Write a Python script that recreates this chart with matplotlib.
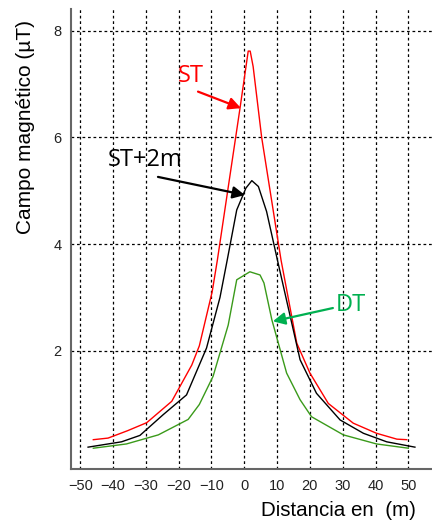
import matplotlib
matplotlib.use("Agg")
import matplotlib.pyplot as plt

# distance (m) and magnetic field (uT)
x_st = [-46, -41.5, -35.5, -29.7, -22.1, -16, -13.7, -9.8, -8.2, -1.3, 1.2, 1.8, 2.7, 5.3, 11.2, 16, 20, 25.6, 33.2, 40.3, 46.5, 49.5]
y_st = [0.33, 0.36, 0.50, 0.65, 1.05, 1.73, 2.09, 3.1, 3.7, 6.55, 7.62, 7.62, 7.33, 6.0, 3.7, 2.14, 1.58, 1.01, 0.64, 0.45, 0.34, 0.33]

x_st2 = [-47.6, -37.4, -31.8, -24.7, -17.6, -11.5, -7.4, -5.2, -2.3, 0.5, 2.3, 4.3, 6.8, 10.1, 17, 22, 29.2, 36.3, 43.4, 52]
y_st2 = [0.19, 0.29, 0.41, 0.80, 1.17, 2.05, 3.0, 3.7, 4.64, 5.05, 5.19, 5.08, 4.61, 3.7, 1.83, 1.20, 0.70, 0.45, 0.29, 0.19]

x_dt = [-46, -35.9, -26.2, -17.1, -13.7, -9.5, -4.9, -2.3, 1.7, 4.8, 6.0, 8.4, 12.9, 17, 20.5, 30.2, 40.3, 50]
y_dt = [0.17, 0.25, 0.42, 0.71, 0.99, 1.52, 2.48, 3.33, 3.48, 3.42, 3.27, 2.58, 1.58, 1.08, 0.76, 0.42, 0.25, 0.17]

x_ticks = [-50, -40, -30, -20, -10, 0, 10, 20, 30, 40, 50]
y_ticks = [2, 4, 6, 8]

RED = "#ff0000"
GREEN_LINE = "#3a9a1a"
GREEN_TXT = "#00b050"

plt.rcParams["font.family"] = ["Liberation Sans", "DejaVu Sans"]

fig = plt.figure(figsize=(4.32, 5.22), dpi=100)
ax = fig.add_axes([71 / 432, 1 - 469 / 522, (432 - 71) / 432, (469 - 9) / 522])

ax.plot(x_st, y_st, color=RED, lw=1.0)
ax.plot(x_st2, y_st2, color="black", lw=1.0)
ax.plot(x_dt, y_dt, color=GREEN_LINE, lw=1.0)

ax.set_xlim(-52.8, 57.2)
ax.set_ylim(-0.22, 8.41)
ax.set_xticks(x_ticks)
ax.set_yticks(y_ticks)
ax.grid(True, color="black", lw=0.9, linestyle=(0, (2.2, 2.2)))
ax.tick_params(length=0, labelsize=10.5, pad=7, colors="#222222")
for s in ("top", "right"):
    ax.spines[s].set_visible(False)
for s in ("left", "bottom"):
    ax.spines[s].set_color("#666666")
    ax.spines[s].set_linewidth(1.5)

fig.text(416 / 432, 1 - 511 / 522, "Distancia en  (m)", ha="right", va="center", fontsize=14.8)
fig.text(26 / 432, 1 - 127 / 522, "Campo magnético (µT)", ha="center", va="center",
         rotation=90, fontsize=15)

afont = ["Open Sans", "DejaVu Sans"]
ax.text(-16.3, 7.16, "ST", color=RED, fontsize=17, ha="center", va="center", family=afont)
ax.annotate("", xy=(-1.0, 6.55), xytext=(-14.1, 6.86),
            arrowprops=dict(arrowstyle="-|>", color=RED, lw=1.6, mutation_scale=18,
                            shrinkA=0, shrinkB=0))
ax.text(-30.3, 5.58, "ST+2m", color="black", fontsize=17, ha="center", va="center", family=afont)
ax.annotate("", xy=(0.2, 4.92), xytext=(-26.3, 5.26),
            arrowprops=dict(arrowstyle="-|>", color="black", lw=1.6, mutation_scale=18,
                            shrinkA=0, shrinkB=0))
ax.text(32.5, 2.86, "DT", color=GREEN_TXT, fontsize=17, ha="center", va="center", family=afont)
ax.annotate("", xy=(8.7, 2.55), xytext=(27.0, 2.80),
            arrowprops=dict(arrowstyle="-|>", color=GREEN_TXT, lw=1.6, mutation_scale=18,
                            shrinkA=0, shrinkB=0))

fig.savefig("out.png", dpi=100)
